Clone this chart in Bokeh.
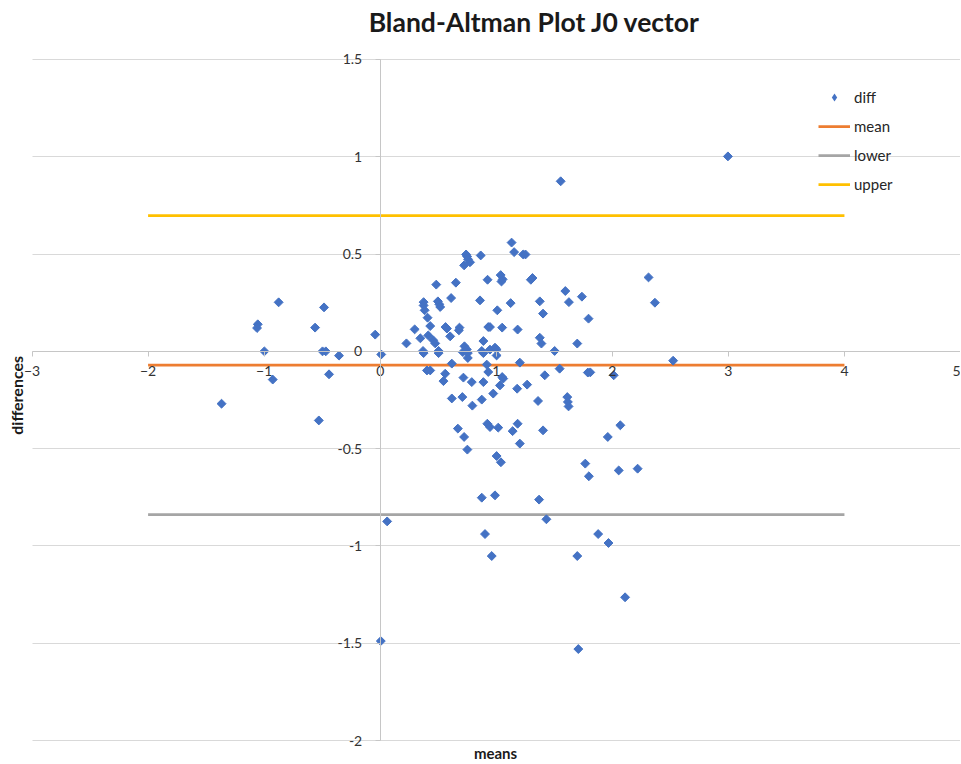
from bokeh.plotting import figure
from bokeh.models import Range1d, LinearAxis, FixedTicker, Grid, Legend, LegendItem, Label
from bokeh.embed import file_html
from bokeh.resources import INLINE

# ---- data ----
means = [
    -0.875, -1.055, -1.061, -0.998, -0.926, -1.367, -0.484, -0.561, -0.497, -0.469,
    -0.355, -0.441, -0.043, 0.009, -0.529, 0.005, 0.060, 1.707, 2.110,
    1.132, 1.154, 1.232, 1.252, 0.866, 0.740, 0.749, 0.757, 0.774, 0.723,
    0.925, 1.038, 1.055, 1.045, 1.298, 1.312, 0.483, 0.652, 0.611, 0.374,
    0.374, 0.383, 0.408, 0.497, 0.509, 0.517, 0.860, 1.124, 1.375, 1.403,
    1.595, 1.626, 1.009, 0.431, 0.297, 0.563, 0.575, 0.683, 0.678, 0.931,
    0.946, 1.051, 1.184, 1.738, 1.795, 2.312, 2.367, 1.555, 2.996,
    0.226, 0.346, 0.414, 0.457, 0.474, 0.603, 0.369, 0.374, 0.503, 0.503,
    0.726, 0.746, 0.712, 0.755, 0.755, 0.889, 0.875, 0.889, 0.946, 0.989,
    1.003, 1.003, 0.617, 0.918, 0.931, 0.403, 0.431, 0.560, 0.545, 0.717,
    0.789, 0.889, 1.051, 1.060, 1.032, 0.974, 1.180, 1.266, 1.418, 1.203,
    1.546, 1.375, 1.389, 1.503, 1.698, 0.617, 0.708, 0.794, 0.875, 1.360,
    1.612, 1.617, 1.623, 1.789, 1.810, 2.012, 2.524,
    0.669, 0.723, 0.751, 0.923, 0.946, 1.017, 1.184, 1.141, 1.403, 1.203,
    1.003, 1.040, 1.767, 1.798, 1.961, 2.069, 2.055, 2.218, 0.875, 0.989,
    1.369, 1.432, 0.903, 1.878, 1.967, 0.961, 1.698,
]
differences = [
    0.252, 0.139, 0.120, 0.000, -0.145, -0.269, 0.226, 0.122, 0.000, 0.000,
    -0.022, -0.118, 0.086, -0.016, -0.355, -1.489, -0.874, -1.530, -1.264,
    0.559, 0.510, 0.498, 0.498, 0.493, 0.498, 0.488, 0.473, 0.458, 0.442,
    0.368, 0.392, 0.370, 0.359, 0.368, 0.377, 0.343, 0.353, 0.274, 0.253,
    0.236, 0.211, 0.173, 0.257, 0.242, 0.228, 0.262, 0.248, 0.257, 0.194,
    0.310, 0.253, 0.211, 0.130, 0.113, 0.125, 0.117, 0.122, 0.108, 0.125,
    0.125, 0.122, 0.112, 0.281, 0.168, 0.380, 0.250, 0.874, 1.002,
    0.041, 0.067, 0.082, 0.057, 0.041, 0.077, 0.002, -0.009, 0.002, -0.009,
    0.026, 0.010, -0.004, -0.009, -0.034, 0.053, 0.002, -0.009, 0.009, 0.019,
    0.009, -0.021, -0.063, -0.068, -0.106, -0.098, -0.098, -0.115, -0.153, -0.135,
    -0.158, -0.158, -0.132, -0.140, -0.175, -0.217, -0.192, -0.171, -0.123, -0.058,
    -0.089, 0.070, 0.040, 0.002, 0.040, -0.242, -0.235, -0.279, -0.248, -0.255,
    -0.235, -0.260, -0.283, -0.109, -0.108, -0.123, -0.048,
    -0.397, -0.440, -0.505, -0.372, -0.389, -0.392, -0.372, -0.410, -0.406, -0.474,
    -0.538, -0.570, -0.577, -0.642, -0.440, -0.380, -0.612, -0.603, -0.752, -0.740,
    -0.762, -0.863, -0.939, -0.939, -0.985, -1.052, -1.052,
]
limit_x = [-2, 4]
mean_diff = [-0.071, -0.071]
lower_limit = [-0.839, -0.839]
upper_limit = [0.697, 0.697]

x_ticks = [-3, -2, -1, 0, 1, 2, 3, 4, 5]
y_ticks = [-2, -1.5, -1, -0.5, 0, 0.5, 1, 1.5]
y_tick_labels = ["-2", "-1.5", "-1", "-0.5", "0", "0.5", "1", "1.5"]

FONT = "Lato"
BLUE = "#4472C4"
W, H = 960, 763

p = figure(width=W, height=H, x_range=Range1d(-3.2716, 5.0), y_range=Range1d(-2.1182, 1.8032),
           output_backend="svg", toolbar_location=None, title=None,
           x_axis_type=None, y_axis_type=None,
           min_border_left=0, min_border_right=0, min_border_top=0, min_border_bottom=0,
           outline_line_color=None, background_fill_color="white",
           border_fill_color="white")

p.add_layout(Grid(dimension=1, ticker=FixedTicker(ticks=y_ticks), cross_bounds=(-3, 5),
                  grid_line_color="#D9D9D9", grid_line_width=1))

xaxis = LinearAxis(ticker=FixedTicker(ticks=x_ticks), fixed_location=0, bounds=(-3, 5),
                   axis_line_color="#C6C6C6", major_tick_line_color="#C6C6C6",
                   major_tick_out=5, major_tick_in=0, minor_tick_line_color=None,
                   major_label_text_font=FONT, major_label_text_font_size="14px",
                   major_label_text_color="#333333", major_label_standoff=10)
p.add_layout(xaxis, "below")

yaxis = LinearAxis(ticker=FixedTicker(ticks=y_ticks), fixed_location=0, bounds=(-2, 1.5),
                   axis_line_color="#C6C6C6", major_tick_line_color="#C6C6C6",
                   major_tick_out=5, major_tick_in=0, minor_tick_line_color=None,
                   major_label_overrides=dict(zip(y_ticks, y_tick_labels)),
                   major_label_text_font=FONT, major_label_text_font_size="14px",
                   major_label_text_color="#333333", major_label_standoff=13)
p.add_layout(yaxis, "left")

# titles
p.add_layout(Label(x=1.3295, y=1.6927, text="Bland-Altman Plot J0 vector",
                   text_align="center", text_baseline="alphabetic", text_font=FONT,
                   text_font_size="26.5px", text_font_style="bold", text_color="#1a1a1a"))
p.add_layout(Label(x=-3.1337, y=-0.2261, angle=1.5708, text="differences",
                   text_align="center", text_baseline="alphabetic", text_font=FONT,
                   text_font_size="16px", text_font_style="bold", text_color="#1a1a1a"))
p.add_layout(Label(x=0.9934, y=-2.0653, text="means", text_align="center",
                   text_baseline="alphabetic", text_font=FONT, text_font_size="15px",
                   text_font_style="bold", text_color="#1a1a1a"))

r_mean = p.line(limit_x, mean_diff, line_color="#ED7D31", line_width=2.75)
r_lower = p.line(limit_x, lower_limit, line_color="#A5A5A5", line_width=2.75)
r_upper = p.line(limit_x, upper_limit, line_color="#FFC000", line_width=2.75)
r_diff = p.scatter(means, differences, marker="square", angle=0.785398, size=6.3,
                   fill_color=BLUE, line_color=BLUE, line_width=1)
# legend swatch only (zero-size diamond so the legend shows a diamond marker)
r_diff_key = p.scatter(means[:1], differences[:1], marker="diamond", size=0,
                       fill_color=BLUE, line_color=BLUE, line_alpha=0)

legend = Legend(items=[LegendItem(label="diff", renderers=[r_diff_key]),
                       LegendItem(label="mean", renderers=[r_mean]),
                       LegendItem(label="lower", renderers=[r_lower]),
                       LegendItem(label="upper", renderers=[r_upper])],
                location=(818, 569), orientation="vertical", padding=0, margin=0,
                spacing=9, glyph_width=32, glyph_height=20, label_standoff=4,
                label_height=20, label_text_font=FONT, label_text_font_size="15px",
                label_text_color="#262626", label_text_baseline="middle",
                border_line_color=None, background_fill_alpha=0)
p.add_layout(legend)

open("out.html", "w").write(file_html(p, INLINE))
